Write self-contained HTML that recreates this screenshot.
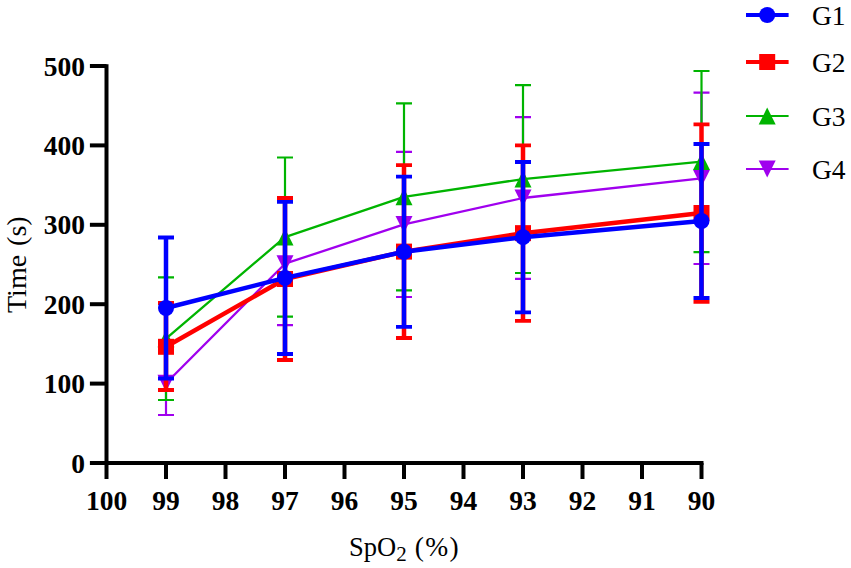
<!DOCTYPE html>
<html><head><meta charset="utf-8"><style>
html,body{margin:0;padding:0;background:#fff;}
body{width:851px;height:568px;overflow:hidden;}
svg{display:block;}
text{font-family:"Liberation Serif",serif;}
</style></head><body>
<svg width="851" height="568" viewBox="0 0 851 568">
<rect width="851" height="568" fill="#fff"/>

<g stroke="#000" stroke-width="4" fill="none" stroke-linecap="butt">
<path d="M106.5 64.2 V465"/>
<path d="M104.5 463 H703.5"/>
<path d="M89.9 463.00 H106.5"/>
<path d="M89.9 383.60 H106.5"/>
<path d="M89.9 304.20 H106.5"/>
<path d="M89.9 224.80 H106.5"/>
<path d="M89.9 145.40 H106.5"/>
<path d="M89.9 66.00 H106.5"/>
<path d="M106.50 463 V479"/>
<path d="M166.00 463 V479"/>
<path d="M225.50 463 V479"/>
<path d="M285.00 463 V479"/>
<path d="M344.50 463 V479"/>
<path d="M404.00 463 V479"/>
<path d="M463.50 463 V479"/>
<path d="M523.00 463 V479"/>
<path d="M582.50 463 V479"/>
<path d="M642.00 463 V479"/>
<path d="M701.50 463 V479"/>
</g>
<g font-weight="bold" font-size="27.5" fill="#000">
<text x="85" y="472.50" text-anchor="end">0</text>
<text x="85" y="393.10" text-anchor="end">100</text>
<text x="85" y="313.70" text-anchor="end">200</text>
<text x="85" y="234.30" text-anchor="end">300</text>
<text x="85" y="154.90" text-anchor="end">400</text>
<text x="85" y="75.50" text-anchor="end">500</text>
<text x="106.50" y="509.5" text-anchor="middle">100</text>
<text x="166.00" y="509.5" text-anchor="middle">99</text>
<text x="225.50" y="509.5" text-anchor="middle">98</text>
<text x="285.00" y="509.5" text-anchor="middle">97</text>
<text x="344.50" y="509.5" text-anchor="middle">96</text>
<text x="404.00" y="509.5" text-anchor="middle">95</text>
<text x="463.50" y="509.5" text-anchor="middle">94</text>
<text x="523.00" y="509.5" text-anchor="middle">93</text>
<text x="582.50" y="509.5" text-anchor="middle">92</text>
<text x="642.00" y="509.5" text-anchor="middle">91</text>
<text x="701.50" y="509.5" text-anchor="middle">90</text>
</g>
<text x="349" y="555.7" font-size="26.5" fill="#000">SpO<tspan font-size="21" dy="5">2</tspan><tspan dy="-5" font-size="27.5" letter-spacing="1.3"> (%)</tspan></text>
<text transform="translate(25.5,313) rotate(-90)" x="0" y="0" font-size="28" fill="#000">Time<tspan dx="2"> (s)</tspan></text>
<g>
<path d="M166 350.6 V415" stroke="#A000EE" stroke-width="2.2" fill="none"/>
<path d="M158 350.6 H174 M158 415 H174" stroke="#A000EE" stroke-width="2.2" fill="none"/>
<path d="M285 201.2 V325.2" stroke="#A000EE" stroke-width="2.2" fill="none"/>
<path d="M277 201.2 H293 M277 325.2 H293" stroke="#A000EE" stroke-width="2.2" fill="none"/>
<path d="M404 151.8 V297" stroke="#A000EE" stroke-width="2.2" fill="none"/>
<path d="M396 151.8 H412 M396 297 H412" stroke="#A000EE" stroke-width="2.2" fill="none"/>
<path d="M523 117.1 V278.9" stroke="#A000EE" stroke-width="2.2" fill="none"/>
<path d="M515 117.1 H531 M515 278.9 H531" stroke="#A000EE" stroke-width="2.2" fill="none"/>
<path d="M701.5 92.7 V264" stroke="#A000EE" stroke-width="2.2" fill="none"/>
<path d="M693.5 92.7 H709.5 M693.5 264 H709.5" stroke="#A000EE" stroke-width="2.2" fill="none"/>
<polyline points="166,383.3 285,263.7 404,224.4 523,198.0 701.5,178.35" stroke="#A000EE" stroke-width="2.3" fill="none" stroke-linejoin="round"/>
<polygon points="157.5,374.8 174.5,374.8 166,391.8" fill="#A000EE"/>
<polygon points="276.5,255.2 293.5,255.2 285,272.2" fill="#A000EE"/>
<polygon points="395.5,215.9 412.5,215.9 404,232.9" fill="#A000EE"/>
<polygon points="514.5,189.5 531.5,189.5 523,206.5" fill="#A000EE"/>
<polygon points="693.0,169.85 710.0,169.85 701.5,186.85" fill="#A000EE"/>
</g>
<g>
<path d="M166 277.3 V400" stroke="#00B400" stroke-width="2.2" fill="none"/>
<path d="M158 277.3 H174 M158 400 H174" stroke="#00B400" stroke-width="2.2" fill="none"/>
<path d="M285 157.5 V316.7" stroke="#00B400" stroke-width="2.2" fill="none"/>
<path d="M277 157.5 H293 M277 316.7 H293" stroke="#00B400" stroke-width="2.2" fill="none"/>
<path d="M404 103.3 V290.4" stroke="#00B400" stroke-width="2.2" fill="none"/>
<path d="M396 103.3 H412 M396 290.4 H412" stroke="#00B400" stroke-width="2.2" fill="none"/>
<path d="M523 85.1 V273" stroke="#00B400" stroke-width="2.2" fill="none"/>
<path d="M515 85.1 H531 M515 273 H531" stroke="#00B400" stroke-width="2.2" fill="none"/>
<path d="M701.5 71 V252.1" stroke="#00B400" stroke-width="2.2" fill="none"/>
<path d="M693.5 71 H709.5 M693.5 252.1 H709.5" stroke="#00B400" stroke-width="2.2" fill="none"/>
<polyline points="166,338.65 285,237.1 404,196.85 523,179.05 701.5,161.55" stroke="#00B400" stroke-width="2.3" fill="none" stroke-linejoin="round"/>
<polygon points="166,330.15 174.5,347.15 157.5,347.15" fill="#00B400"/>
<polygon points="285,228.6 293.5,245.6 276.5,245.6" fill="#00B400"/>
<polygon points="404,188.35 412.5,205.35 395.5,205.35" fill="#00B400"/>
<polygon points="523,170.55 531.5,187.55 514.5,187.55" fill="#00B400"/>
<polygon points="701.5,153.05 710.0,170.05 693.0,170.05" fill="#00B400"/>
</g>
<g>
<path d="M166 303 V390" stroke="#FF0000" stroke-width="4.5" fill="none"/>
<path d="M158 303 H174 M158 390 H174" stroke="#FF0000" stroke-width="3.8" fill="none"/>
<path d="M285 198 V360" stroke="#FF0000" stroke-width="4.5" fill="none"/>
<path d="M277 198 H293 M277 360 H293" stroke="#FF0000" stroke-width="3.8" fill="none"/>
<path d="M404 165.2 V338" stroke="#FF0000" stroke-width="4.5" fill="none"/>
<path d="M396 165.2 H412 M396 338 H412" stroke="#FF0000" stroke-width="3.8" fill="none"/>
<path d="M523 145.4 V320.9" stroke="#FF0000" stroke-width="4.5" fill="none"/>
<path d="M515 145.4 H531 M515 320.9 H531" stroke="#FF0000" stroke-width="3.8" fill="none"/>
<path d="M701.5 124.3 V301.8" stroke="#FF0000" stroke-width="4.5" fill="none"/>
<path d="M693.5 124.3 H709.5 M693.5 301.8 H709.5" stroke="#FF0000" stroke-width="3.8" fill="none"/>
<polyline points="166,346.8 285,279 404,251.6 523,233.15 701.5,213" stroke="#FF0000" stroke-width="4.5" fill="none" stroke-linejoin="round"/>
<rect x="158" y="338.8" width="16" height="16" fill="#FF0000"/>
<rect x="277" y="271" width="16" height="16" fill="#FF0000"/>
<rect x="396" y="243.6" width="16" height="16" fill="#FF0000"/>
<rect x="515" y="225.15" width="16" height="16" fill="#FF0000"/>
<rect x="693.5" y="205" width="16" height="16" fill="#FF0000"/>
</g>
<g>
<path d="M166 237.5 V378.5" stroke="#0000FF" stroke-width="4.5" fill="none"/>
<path d="M158 237.5 H174 M158 378.5 H174" stroke="#0000FF" stroke-width="3.8" fill="none"/>
<path d="M285 201.8 V354" stroke="#0000FF" stroke-width="4.5" fill="none"/>
<path d="M277 201.8 H293 M277 354 H293" stroke="#0000FF" stroke-width="3.8" fill="none"/>
<path d="M404 176.7 V326.8" stroke="#0000FF" stroke-width="4.5" fill="none"/>
<path d="M396 176.7 H412 M396 326.8 H412" stroke="#0000FF" stroke-width="3.8" fill="none"/>
<path d="M523 162 V312.3" stroke="#0000FF" stroke-width="4.5" fill="none"/>
<path d="M515 162 H531 M515 312.3 H531" stroke="#0000FF" stroke-width="3.8" fill="none"/>
<path d="M701.5 144 V298" stroke="#0000FF" stroke-width="4.5" fill="none"/>
<path d="M693.5 144 H709.5 M693.5 298 H709.5" stroke="#0000FF" stroke-width="3.8" fill="none"/>
<polyline points="166,308 285,277.9 404,251.75 523,237.15 701.5,221" stroke="#0000FF" stroke-width="4.5" fill="none" stroke-linejoin="round"/>
<circle cx="166" cy="308" r="8" fill="#0000FF"/>
<circle cx="285" cy="277.9" r="8" fill="#0000FF"/>
<circle cx="404" cy="251.75" r="8" fill="#0000FF"/>
<circle cx="523" cy="237.15" r="8" fill="#0000FF"/>
<circle cx="701.5" cy="221" r="8" fill="#0000FF"/>
</g>
<path d="M746 15 H788.6" stroke="#0000FF" stroke-width="4"/>
<circle cx="767.2" cy="15" r="8" fill="#0000FF"/>
<text x="812" y="24.5" font-size="27.5" fill="#000">G1</text>
<path d="M746 62 H788.6" stroke="#FF0000" stroke-width="4"/>
<rect x="759.2" y="54" width="16" height="16" fill="#FF0000"/>
<text x="812" y="71.5" font-size="27.5" fill="#000">G2</text>
<path d="M746 116 H788.6" stroke="#00B400" stroke-width="2.2"/>
<polygon points="767.2,107.5 775.7,124.5 758.7,124.5" fill="#00B400"/>
<text x="812" y="125.5" font-size="27.5" fill="#000">G3</text>
<path d="M746 169 H788.6" stroke="#A000EE" stroke-width="2.2"/>
<polygon points="758.7,160.5 775.7,160.5 767.2,177.5" fill="#A000EE"/>
<text x="812" y="178.5" font-size="27.5" fill="#000">G4</text>
</svg></body></html>
